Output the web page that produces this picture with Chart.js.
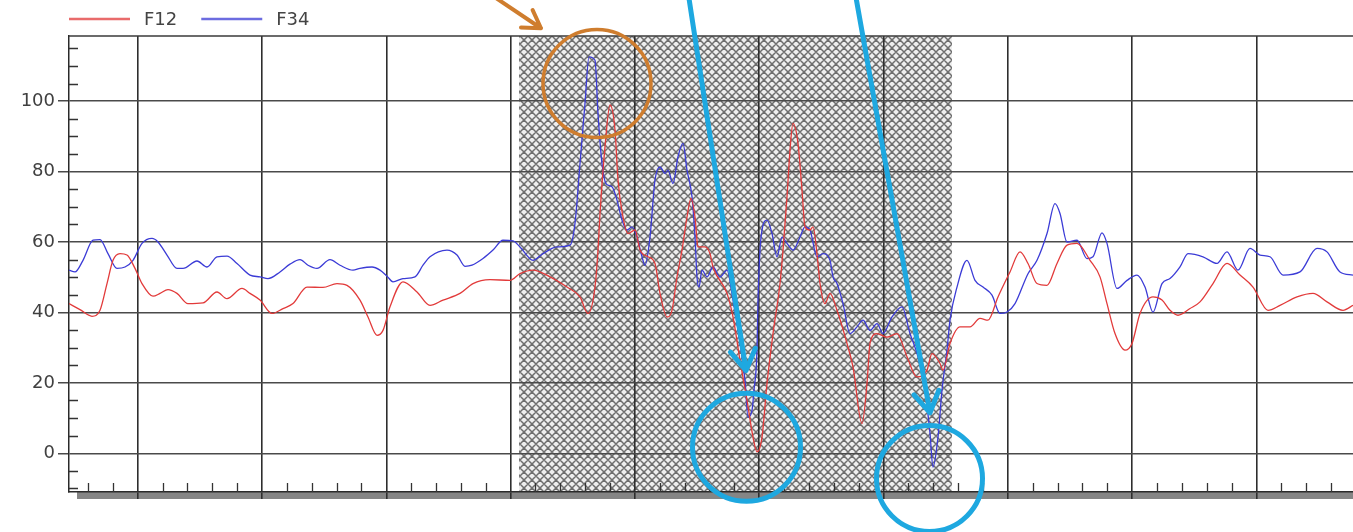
<!DOCTYPE html>
<html>
<head>
<meta charset="utf-8">
<script src="https://cdn.jsdelivr.net/npm/chart.js@4/dist/chart.umd.min.js"></script>
<style>
html,body{margin:0;padding:0;background:#ffffff;}
#wrap{width:1353px;height:532px;position:relative;}
</style>
</head>
<body>
<div id="wrap"><canvas id="c"></canvas></div>
<script>
// ---- data (x = sample position, y = value) ----
const seriesNames = ['F12', 'F34'];

const f12X = [0,11,23,31,38,44,51,58,66,73,84,91,99,108,119,134,148,158,173,181,191,203,214,224,238,254,268,278,291,299,308,314,321,334,348,361,374,391,404,421,441,451,464,481,498,511,519,526,529,531,536,541,546,549,554,559,566,571,579,586,591,598,603,608,613,618,622,626,629,636,641,644,658,664,671,678,684,688,693,698,704,711,714,718,721,724,729,733,736,741,744,749,751,756,761,768,778,784,793,798,801,808,818,828,838,848,858,863,871,874,881,891,901,911,919,929,941,951,959,968,978,988,998,1008,1021,1031,1038,1046,1056,1063,1071,1084,1093,1101,1109,1121,1131,1144,1158,1171,1184,1199,1211,1228,1244,1258,1274,1284];
const f12Y = [42.5,40.8,38.9,40.6,48.2,54.8,56.7,56.3,52.5,48.2,44.6,45.4,46.5,45.4,42.5,42.7,45.8,43.9,46.8,45.4,43.5,39.7,41.1,42.5,47.2,47.1,48.2,47.7,43.5,38.7,33.5,34.9,41.6,48.7,45.8,42,43.5,45.4,48.2,49.3,49.1,51,52,50.1,47.2,44.4,39.7,47.2,57.7,68.1,87,98.9,91.8,77.6,67.1,62.4,63.4,57.7,55.8,53.9,45.4,38.7,40.6,50.1,57.7,67.1,72.4,67.1,58.6,58.6,56.7,52.9,45.4,38.7,26.4,15.1,4.6,0.4,4.6,19.8,34,48.2,57.7,72.8,86.1,93.7,88,74.7,64.3,63.4,64.3,53.9,48.2,42.5,45.4,40.6,31.2,24.5,8.4,19.8,31.2,34,33,34,27.4,21.7,23.6,28.3,25.5,23.6,31.2,35.9,35.9,38.3,37.8,44.4,51.5,57.2,53.9,48.2,47.7,53.9,59.1,59.6,54.8,50.1,42.5,34,29.3,31.2,39.7,44.4,43.5,40.6,39.2,41.1,43,48.2,53.9,50.6,47.2,40.6,42,44.4,45.4,43,40.6,42];

const f34X = [0,6,14,24,31,39,48,56,64,73,83,89,98,108,114,128,138,148,158,168,181,191,199,211,221,231,239,248,261,271,284,291,303,311,318,324,334,346,354,361,378,388,396,403,414,424,434,444,451,464,474,488,501,506,511,516,520,526,529,533,537,543,548,553,558,563,568,573,576,581,586,591,596,599,604,609,614,618,623,626,628,630,633,638,644,651,658,664,671,676,679,683,685,688,689,691,693,698,703,708,713,718,724,731,736,741,748,754,761,764,768,774,781,788,794,801,808,814,823,833,841,849,856,861,864,869,873,878,881,888,898,906,914,923,931,938,946,959,968,978,986,991,998,1008,1018,1024,1033,1038,1048,1058,1068,1076,1084,1093,1101,1111,1119,1134,1148,1158,1169,1181,1191,1201,1214,1231,1248,1258,1271,1284];
const f34Y = [52,51.5,54.8,60.5,60.7,56.7,52.5,52.9,54.8,59.6,61,60,56.3,52.5,52.5,54.6,52.9,55.8,56,53.9,50.6,50.1,49.6,51.5,53.7,55,53.4,52.5,55,53.4,52,52.5,52.9,52,50.3,48.7,49.6,50.1,53.4,55.8,57.7,56.3,53.1,53.4,55.3,57.7,60.5,60.3,58.6,54.8,56.7,58.6,59.1,65.3,82.3,99.4,112.6,111.6,96.5,82.3,76.6,75.7,71.9,66.2,63.4,64.3,61.4,55.8,53.4,61.4,77.6,81.3,79.5,80.4,76.6,84.2,88,80.4,72.8,61.4,50,47.2,52,50.1,52.9,50.1,52,43.5,31.2,20.7,10.3,12.2,17.9,29.3,43.5,57.7,63.4,66.2,62.4,55.8,61.4,59.6,57.7,61.4,64.3,63.4,55.8,56.7,54.8,50.1,48.2,42.5,34,35.9,37.8,34.9,36.8,34,38.7,41.6,34,27.4,17.9,5.6,-3.9,4.6,17.9,29.3,37.8,47.2,54.8,49.1,47.2,44.9,39.7,40.1,42.5,51,54.8,62.4,70.9,68.1,60,60.5,55.3,55.8,62.6,59.6,46.8,49.1,50.6,47.2,40.1,48.2,49.6,52.9,56.7,55.8,53.9,57.2,52,58.2,56.3,55.8,50.6,51.5,58.2,57.2,51.5,50.6];

// ---- axes ----
const yTickValues = [0, 20, 40, 60, 80, 100];
const yMin = -11, yMax = 118.5, yMinorStep = 5;
const xMin = 0, xMax = 1284;
const xGridStart = 68.7, xGridStep = 124.3, xMinorPerGrid = 5;

// shaded (cross-hatched) interval, in x units
const hatchRange = [450, 883];

// annotations drawn over the chart (data coordinates)
const annotCircles = [
  {x: 528, y: 105, r: 54, color: '#cf7d2e', w: 3.5},
  {x: 677.5, y: 1.7, r: 54, color: '#1ea8e0', w: 5},
  {x: 860.5, y: -7.2, r: 53, color: '#1ea8e0', w: 5}
];
const annotArrows = [
  {x0: 418, y0: 131, x1: 472, y1: 120.7, color: '#cf7d2e', w: 4, head: 20},
  {x0: 619, y0: 131, x1: 677, y1: 23.5, color: '#1ea8e0', w: 5, head: 24},
  {x0: 786, y0: 131, x1: 861, y1: 11.5, color: '#1ea8e0', w: 5, head: 24}
];

const colors = ['#e23a3a', '#3b3bd6'];

function toPoints(xs, ys) { return xs.map((v, i) => ({x: v, y: ys[i]})); }

function makePattern(ctx) {
  const s = 8;
  const c = document.createElement('canvas');
  c.width = s; c.height = s;
  const g = c.getContext('2d');
  g.fillStyle = '#eeeeee';
  g.fillRect(0, 0, s, s);
  g.strokeStyle = '#6e6e6e';
  g.lineWidth = 1.5;
  g.beginPath();
  g.moveTo(0, s/2); g.lineTo(s/2, 0); g.lineTo(s, s/2); g.lineTo(s/2, s); g.closePath();
  g.stroke();
  return ctx.createPattern(c, 'repeat');
}

const deco = {
  id: 'deco',
  beforeDraw(chart) {
    const {ctx, chartArea: a, scales: {x}} = chart;
    ctx.save();
    ctx.fillStyle = '#858585';
    ctx.fillRect(a.left + 8, a.bottom, a.right - a.left, 7);
    const hx0 = x.getPixelForValue(hatchRange[0]);
    const hx1 = x.getPixelForValue(hatchRange[1]);
    ctx.fillStyle = makePattern(ctx);
    ctx.fillRect(hx0, a.top, hx1 - hx0, a.bottom - a.top);
    ctx.restore();
  },
  beforeDatasetsDraw(chart) {
    const {ctx, chartArea: a, scales: {x, y}} = chart;
    ctx.save();
    ctx.strokeStyle = '#333';
    ctx.lineWidth = 1.3;
    ctx.beginPath();
    // y minor ticks (inside)
    for (let v = Math.ceil(yMin / yMinorStep) * yMinorStep; v <= yMax; v += yMinorStep) {
      if (yTickValues.includes(v)) continue;
      const py = Math.round(y.getPixelForValue(v)) + 0.5;
      ctx.moveTo(a.left, py); ctx.lineTo(a.left + 9, py);
    }
    // x minor ticks (inside)
    const ms = xGridStep / xMinorPerGrid;
    for (let k = -xMinorPerGrid; ; k++) {
      const v = xGridStart + k * ms;
      if (v > xMax) break;
      if (v < xMin || ((k % xMinorPerGrid) + xMinorPerGrid) % xMinorPerGrid === 0) continue;
      const px = Math.round(x.getPixelForValue(v)) + 0.5;
      ctx.moveTo(px, a.bottom); ctx.lineTo(px, a.bottom - 9);
    }
    ctx.stroke();
    // top frame
    ctx.strokeStyle = '#3a3a3a';
    ctx.lineWidth = 1.5;
    ctx.beginPath();
    ctx.moveTo(a.left, a.top); ctx.lineTo(a.right, a.top);
    ctx.stroke();
    ctx.restore();
  },
  afterDraw(chart) {
    const {ctx, chartArea: a, scales: {x, y}} = chart;
    ctx.save();
    // legend
    ctx.font = '18px "DejaVu Sans", Verdana, sans-serif';
    ctx.textBaseline = 'middle';
    let lx = a.left;
    const ly = 19;
    chart.data.datasets.forEach(ds => {
      ctx.globalAlpha = 0.75;
      ctx.strokeStyle = ds.borderColor;
      ctx.lineWidth = 2.5;
      ctx.beginPath(); ctx.moveTo(lx, ly); ctx.lineTo(lx + 61, ly); ctx.stroke();
      ctx.globalAlpha = 1;
      ctx.fillStyle = '#444';
      ctx.fillText(ds.label, lx + 75, ly + 1);
      lx += 75 + ctx.measureText(ds.label).width + 24;
    });
    // annotations
    ctx.lineCap = 'round';
    ctx.lineJoin = 'round';
    annotCircles.forEach(c => {
      ctx.strokeStyle = c.color; ctx.lineWidth = c.w;
      ctx.beginPath();
      ctx.arc(x.getPixelForValue(c.x), y.getPixelForValue(c.y), c.r, 0, Math.PI * 2);
      ctx.stroke();
    });
    annotArrows.forEach(ar => {
      const X0 = x.getPixelForValue(ar.x0), Y0 = y.getPixelForValue(ar.y0);
      const X1 = x.getPixelForValue(ar.x1), Y1 = y.getPixelForValue(ar.y1);
      const ang = Math.atan2(Y1 - Y0, X1 - X0);
      ctx.strokeStyle = ar.color; ctx.lineWidth = ar.w;
      ctx.beginPath();
      ctx.moveTo(X0, Y0); ctx.lineTo(X1, Y1);
      const sp = 0.55;
      ctx.moveTo(X1 - ar.head * Math.cos(ang - sp), Y1 - ar.head * Math.sin(ang - sp));
      ctx.lineTo(X1, Y1);
      ctx.lineTo(X1 - ar.head * Math.cos(ang + sp), Y1 - ar.head * Math.sin(ang + sp));
      ctx.stroke();
    });
    ctx.restore();
  }
};

const xGridValues = [];
for (let v = xGridStart; v <= xMax; v += xGridStep) xGridValues.push(v);

new Chart(document.getElementById('c'), {
  type: 'line',
  data: {
    datasets: [
      {label: seriesNames[0], data: toPoints(f12X, f12Y), borderColor: colors[0], borderWidth: 1.3,
       pointRadius: 0, cubicInterpolationMode: 'monotone', fill: false},
      {label: seriesNames[1], data: toPoints(f34X, f34Y), borderColor: colors[1], borderWidth: 1.3,
       pointRadius: 0, cubicInterpolationMode: 'monotone', fill: false}
    ]
  },
  options: {
    responsive: true,
    maintainAspectRatio: false,
    animation: false,
    events: [],
    layout: {padding: {top: 36, left: 0, right: 0, bottom: 33}},
    plugins: {legend: {display: false}, tooltip: {enabled: false}, title: {display: false}},
    scales: {
      x: {
        type: 'linear', min: xMin, max: xMax,
        afterBuildTicks: s => { s.ticks = xGridValues.map(v => ({value: v})); },
        afterFit: s => { s.height = 7; },
        ticks: {display: false},
        grid: {color: '#2e2e2e', lineWidth: 1.6, tickLength: 7, drawTicks: true},
        border: {display: true, color: '#2a2a2a', width: 1.5}
      },
      y: {
        type: 'linear', min: yMin, max: yMax,
        afterBuildTicks: s => { s.ticks = yTickValues.map(v => ({value: v})); },
        afterFit: s => { s.width = 69; },
        ticks: {color: '#404040', font: {family: '"DejaVu Sans", Verdana, sans-serif', size: 18}, padding: 3,
                callback: v => String(v)},
        grid: {color: '#4a4a4a', lineWidth: 1.5, tickLength: 11, drawTicks: true},
        border: {display: true, color: '#2a2a2a', width: 1.5}
      }
    }
  },
  plugins: [deco]
});
</script>
</body>
</html>
